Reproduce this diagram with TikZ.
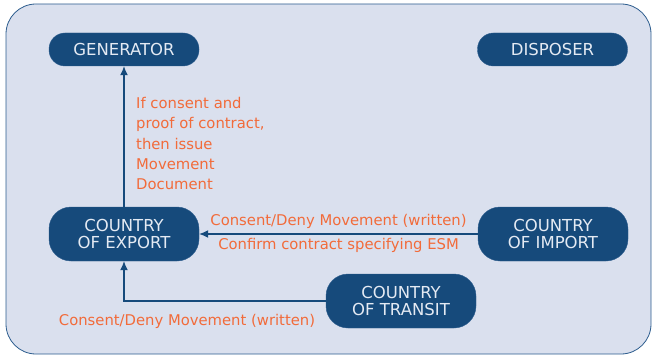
\documentclass[tikz,border=0pt]{standalone}
\usepackage{fontspec}
\setmainfont{DejaVu Sans}
\usetikzlibrary{arrows.meta}

\definecolor{panelfill}{HTML}{DAE0EE}
\definecolor{panelline}{HTML}{2D5D8E}
\definecolor{boxblue}{HTML}{164A7B}
\definecolor{boxtext}{HTML}{E4EAF3}
\definecolor{notered}{HTML}{F26B3A}

\tikzset{
    party/.style = {draw=panelline, fill=boxblue, rounded corners=16pt, minimum width=150pt,
        text=boxtext, align=center, inner sep=1pt, font=\fontsize{16.5}{17}\selectfont},
    tallparty/.style = {party, rounded corners=22pt, minimum height=54pt},
    flow/.style = {draw=boxblue, line width=1.1pt, -{Latex[length=9pt,width=8pt]}},
    note/.style = {text=notered, font=\fontsize{14.8}{20.3}\selectfont, align=left, inner sep=1pt}
}

\begin{document}
\begin{tikzpicture}[x=1pt, y=-1pt]
    \useasboundingbox (0,0) rectangle (652,358);
    % 背景面板
    \draw[panelline, fill=panelfill, line width=0.8pt, rounded corners=30pt] (6,4) rectangle (651,354);

    % 各方节点
    \node[party, minimum height=33pt] (generator) at (124,49.5) {GENERATOR};
    \node[party, minimum height=33pt] (disposer) at (552.5,49.5) {DISPOSER};
    \node[tallparty] (export) at (124,234) {COUNTRY\\OF EXPORT};
    \node[tallparty] (import) at (553,234) {COUNTRY\\OF IMPORT};
    \node[tallparty] (transit) at (401,301) {COUNTRY\\OF TRANSIT};

    % 出口国到产生者
    \draw[flow] (export) -- (generator);
    \node[note, anchor=north west] (issue) at (135,96)
        {If consent and\\proof of contract,\\then issue\\Movement\\Document};

    % 进口国到出口国
    \draw[flow] (import) -- node[note, above=4pt] (consentimp) {Consent/Deny Movement (written)}
        node[note, below=3pt] (confirm) {Confirm contract specifying ESM} (export);

    % 过境国到出口国
    \draw[flow] (transit.west) -| (export.south);
    \node[note] (consenttra) at (187,321) {Consent/Deny Movement (written)};
\end{tikzpicture}
\end{document}
